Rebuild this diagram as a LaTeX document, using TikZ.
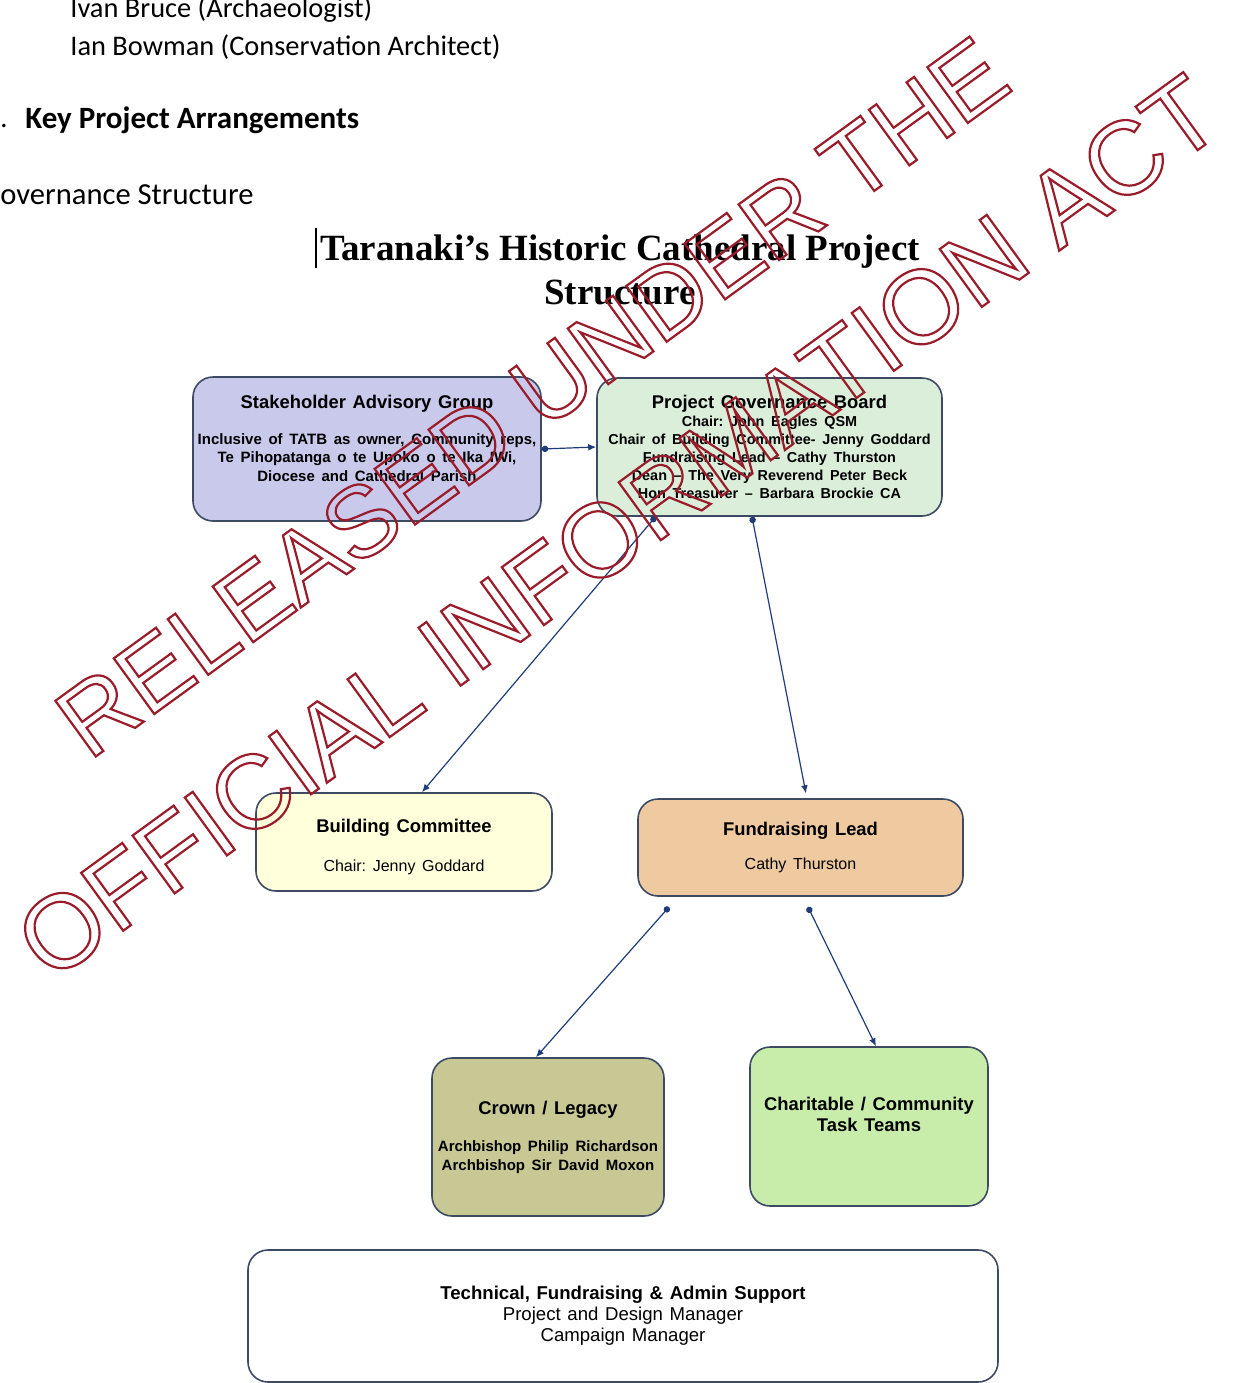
\documentclass[tikz,border=0pt]{standalone}
\usepackage{fontspec}
\setmainfont{Liberation Sans}
\newfontfamily\titlefont{Liberation Serif}
\newfontfamily\docfont{Carlito}
\usepackage{xcolor}
\definecolor{edge}{HTML}{3C4A63}
\definecolor{link}{HTML}{1F3C7A}
\definecolor{lav}{HTML}{C9C9EB}
\definecolor{mint}{HTML}{DAEEDA}
\definecolor{cream}{HTML}{FFFFDC}
\definecolor{peach}{HTML}{EFC9A0}
\definecolor{khaki}{HTML}{C8C894}
\definecolor{leaf}{HTML}{C8EDAA}
\usetikzlibrary{arrows.meta,positioning,calc}
\newcommand{\outlinetext}[1]{\special{pdf:literal direct 1 Tr 1.1 w 0.604 0.11 0.165 RG}#1\special{pdf:literal direct 0 Tr}}
\frenchspacing

\begin{document}
\begin{tikzpicture}[
  x=0.5pt, y=-0.5pt,
  font=\rmfamily,
  box/.style={draw=edge, line width=0.8pt, rounded corners=10pt, align=center,
    inner sep=2pt},
  doc/.style={font=\docfont\fontsize{14.2}{16}\selectfont, anchor=west, inner sep=0pt},
  conn/.style={draw=link, line width=0.6pt, {Circle[length=3.2pt]}-{Latex[length=4pt,width=3.4pt]}},
  stamptext/.style={font=\fontsize{50}{50}\selectfont, rotate=36, inner sep=0pt}
]
  \useasboundingbox (0,0) rectangle (1246,1383);

  % page text above the chart
  \node[doc] (l1) at (70,10) {Ivan Bruce (Archaeologist)};
  \node[doc] (l2) at (70,47) {Ian Bowman (Conservation Architect)};
  \node[doc] (dot) at (0,126) {.};
  \node[doc, font=\docfont\bfseries\fontsize{15.5}{17}\selectfont] (sec) at (25,120) {Key Project Arrangements};
  \node[doc, font=\docfont\fontsize{15.3}{17}\selectfont] (gov) at (0,195) {overnance Structure};
  \node[font=\titlefont\bfseries\fontsize{18.5}{22}\selectfont, align=center] (ttl) at (620,270)
    {Taranaki’s Historic Cathedral Project\\Structure};
  \draw[line width=0.6pt] (316,228) -- (316,268);

  % chart boxes
  \node[box, fill=lav, minimum width=174pt, minimum height=72pt, text width=170pt] (sag) at (367,449)
    {{\bfseries\fontsize{9.2}{10}\selectfont Stakeholder Advisory Group}\\[8.5pt]
     {\bfseries\fontsize{7.5}{9.25}\selectfont Inclusive of TATB as owner, Community reps,\\
      Te Pihopatanga o te Upoko o te Ika IWi,\\ Diocese and Cathedral Parish\\[1.25pt]\mbox{}\par}};
  \node[box, fill=mint, minimum width=172.5pt, minimum height=69pt, text width=168pt] (pgb) at (769.5,447)
    {{\bfseries\fontsize{9.2}{9.5}\selectfont Project Governance Board}\\
     {\bfseries\fontsize{7.2}{9}\selectfont Chair: John Eagles QSM\\
      Chair of Building Committee- Jenny Goddard\\
      Fundraising Lead -- Cathy Thurston\\
      Dean -- The Very Reverend Peter Beck\\
      Hon Treasurer -- Barbara Brockie CA\par}};
  \node[box, fill=cream, minimum width=148pt, minimum height=49pt, text width=144pt] (bc) at (404,842)
    {{\bfseries\fontsize{9.2}{10}\selectfont\rule{0pt}{11.5pt}Building Committee}\\[10.5pt]
     {\fontsize{8}{9}\selectfont Chair: Jenny Goddard\par}};
  \node[box, fill=peach, minimum width=162.5pt, minimum height=48.5pt, text width=158pt] (fl) at (800.5,847.5)
    {{\bfseries\fontsize{9.2}{10}\selectfont Fundraising Lead}\\[8pt]
     {\fontsize{8}{9}\selectfont Cathy Thurston\par}};
  \node[box, fill=khaki, minimum width=116pt, minimum height=79pt, text width=112pt] (cl) at (548,1137)
    {{\bfseries\fontsize{9.2}{10}\selectfont Crown / Legacy}\\[9pt]
     {\bfseries\fontsize{7.5}{9.5}\selectfont Archbishop Philip Richardson\\
      Archbishop Sir David Moxon\par}};
  \node[box, fill=leaf, minimum width=119pt, minimum height=79.5pt, text width=115pt] (ct) at (869,1126.5)
    {{\bfseries\fontsize{9.2}{10.5}\selectfont Charitable / Community\\ Task Teams\\[1.5pt]\mbox{}\par}};
  \node[box, fill=white, minimum width=375pt, minimum height=66pt, text width=370pt] (ts) at (623,1316)
    {{\bfseries\fontsize{9.3}{10.5}\selectfont Technical, Fundraising \& Admin Support}\\
     {\fontsize{9.3}{10.5}\selectfont Project and Design Manager\\ Campaign Manager\par}};

  % free ends under the fundraising lead
  \coordinate (flL) at (669,907);
  \coordinate (flR) at (808,907);

  % connectors
  \draw[conn] (sag.east) -- (pgb.west);
  \draw[conn] ([xshift=-57pt]pgb.south) -- ([xshift=9pt]bc.north);
  \draw[conn, shorten >=2.5pt] ([xshift=-8.75pt]pgb.south) -- ([xshift=3.2pt]fl.north);
  \draw[conn] (flL) -- ([xshift=-6pt]cl.north);
  \draw[conn] (flR) -- ([xshift=3.5pt]ct.north);

  % release stamp
  \node[stamptext] (wm1) at (532,397) {\outlinetext{RELEASED UNDER THE}};
  \node[stamptext, font=\fontsize{52}{52}\selectfont] (wm2) at (618,527) {\outlinetext{OFFICIAL INFORMATION ACT}};
\end{tikzpicture}
\end{document}
